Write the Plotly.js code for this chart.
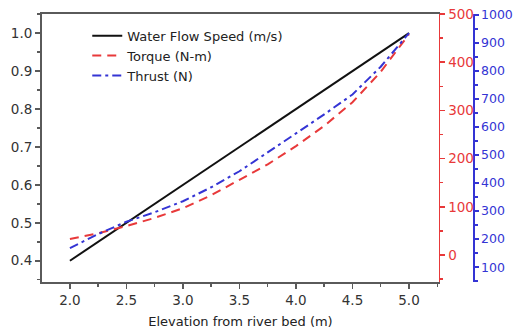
<!DOCTYPE html>
<html><head><meta charset="utf-8">
<script src="https://cdn.plot.ly/plotly-3.0.1.min.js"></script>
<style>html,body{margin:0;padding:0;background:#fff}#c{width:514px;height:334px}</style>
</head><body><div id="c"></div>
<script>
const elevation = [2.0, 2.25, 2.5, 2.75, 3.0, 3.25, 3.5, 3.75, 4.0, 4.25, 4.5, 4.75, 5.0];
const waterSpeed = [0.40, 0.45, 0.50, 0.55, 0.60, 0.65, 0.70, 0.75, 0.80, 0.85, 0.90, 0.95, 1.00];
const torque = [33, 45, 60, 77, 97, 124, 156, 188, 226, 268, 317, 380, 458];
const thrust = [168, 218, 262, 296, 335, 385, 442, 508, 577, 645, 716, 815, 935];
const names = ['Water Flow Speed (m/s)', 'Torque (N-m)', 'Thrust (N)'];

const RED = '#e8393a', BLUE = '#3434d4', GREY = '#5a5a5a';
const FAM = 'DejaVu Sans, Liberation Sans, Arial, sans-serif';
const font = {family: FAM, size: 13, color: '#333'};

const traces = [
  {x: elevation, y: waterSpeed, name: names[0], mode: 'lines', line: {color: '#111', width: 2}, yaxis: 'y'},
  {x: elevation, y: torque, name: names[1], mode: 'lines', line: {color: RED, width: 2, dash: '9px,6px'}, yaxis: 'y2'},
  {x: elevation, y: thrust, name: names[2], mode: 'lines', line: {color: BLUE, width: 2, dash: '9px,4px,3px,4px'}, yaxis: 'y3'}
];

const layout = {
  width: 514, height: 334,
  margin: {l: 42, r: 41, t: 14, b: 52},
  paper_bgcolor: '#fff', plot_bgcolor: '#fff',
  font: font,
  showlegend: true,
  legend: {x: 0.105, y: 0.975, xanchor: 'left', yanchor: 'top', bgcolor: 'rgba(0,0,0,0)',
           font: {family: FAM, size: 13, color: '#222'}, tracegroupgap: 0},
  xaxis: {
    domain: [0, 0.921], range: [1.753, 5.265],
    showgrid: false, zeroline: false, showline: true, linecolor: GREY, linewidth: 2, mirror: true,
    ticks: 'outside', ticklen: 5, tickcolor: GREY, tickwidth: 1.5,
    dtick: 0.5, tick0: 2.0, tickformat: '.1f',
    minor: {ticks: 'outside', ticklen: 3, dtick: 0.25, tick0: 2.0, tickcolor: GREY},
    tickfont: {family: FAM, size: 13.5, color: '#333'},
    title: {text: 'Elevation from river bed (m)', font: {family: FAM, size: 13, color: '#222'}, standoff: 10}
  },
  yaxis: {
    range: [0.344, 1.0505],
    showgrid: false, zeroline: false, showline: true, linecolor: GREY, linewidth: 2,
    ticks: 'outside', ticklen: 5, tickcolor: GREY, tickwidth: 1.5,
    dtick: 0.1, tick0: 0.4, tickformat: '.1f',
    minor: {ticks: 'outside', ticklen: 3, dtick: 0.05, tickcolor: GREY},
    tickfont: {family: FAM, size: 13.5, color: '#333'}
  },
  yaxis2: {
    overlaying: 'y', side: 'right', anchor: 'x',
    range: [-56, 500],
    showgrid: false, zeroline: false, showline: true, linecolor: RED, linewidth: 1.5,
    ticks: 'outside', ticklen: 5, tickcolor: RED, tickwidth: 1.5,
    dtick: 100, tick0: 0,
    minor: {ticks: 'outside', ticklen: 3, dtick: 50, tickcolor: RED},
    tickfont: {family: FAM, size: 13.5, color: RED}
  },
  yaxis3: {
    overlaying: 'y', side: 'right', anchor: 'free', position: 1.0,
    range: [47, 1003],
    showgrid: false, zeroline: false, showline: true, linecolor: BLUE, linewidth: 1.5,
    ticks: 'outside', ticklen: 4, tickcolor: BLUE, tickwidth: 1.5,
    dtick: 100, tick0: 100,
    minor: {ticks: 'outside', ticklen: 3, dtick: 50, tickcolor: BLUE},
    tickfont: {family: FAM, size: 12.5, color: BLUE}
  }
};

Plotly.newPlot('c', traces, layout, {displayModeBar: false, staticPlot: true});
</script></body></html>
